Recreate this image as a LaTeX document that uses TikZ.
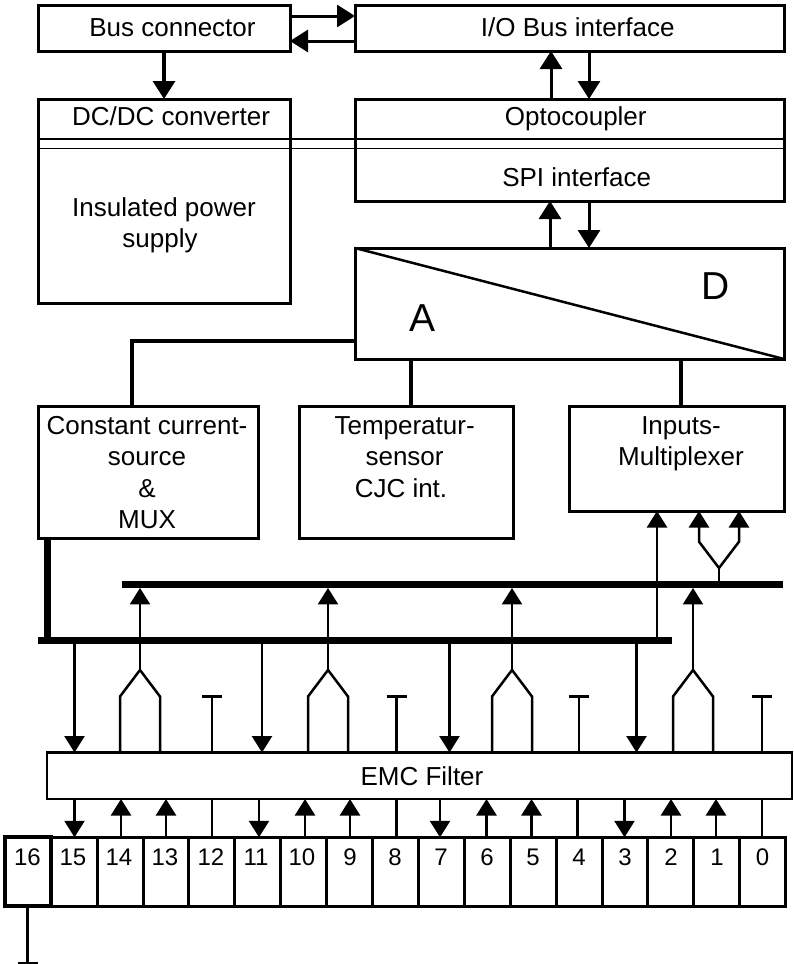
\documentclass[tikz,border=0pt]{standalone}
\usepackage{fontspec}
\setmainfont{Liberation Sans}
\usetikzlibrary{arrows.meta}
\tikzset{
  box/.style={draw=black,line width=3pt,fill=none,inner sep=0pt,outer sep=0pt,rectangle},
  txt/.style={inner sep=0pt,outer sep=0pt,anchor=base,align=center,font=\fontsize{26}{31.5}\selectfont},
  midtxt/.style={txt,font=\fontsize{26}{31.5}\selectfont},
  num/.style={inner sep=0pt,outer sep=0pt,anchor=base,font=\fontsize{24}{28}\selectfont},
  big/.style={inner sep=0pt,outer sep=0pt,anchor=base,font=\fontsize{39}{42}\selectfont},
  bar/.style={fill=black,draw=none,inner sep=0pt,outer sep=0pt,rectangle},
  bigtip/.style={-{Triangle[width=22pt,length=18pt]},line width=3pt},
  smalltip/.style={-{Triangle[width=20pt,length=16.5pt]},line width=2.5pt},
  wire/.style={line width=2.5pt,line join=miter},
  hvy/.style={line width=4pt},
}
\begin{document}
\begin{tikzpicture}[x=1pt,y=-1pt]
\useasboundingbox (0,0) rectangle (793,964);
% boxes
\node[box,minimum width=252pt,minimum height=46pt] (busc) at (164,28) {};
\node[box,minimum width=429pt,minimum height=46pt] (iob) at (569.5,28) {};
\node[box,minimum width=252pt,minimum height=204pt] (dcdc) at (164,201) {};
\node[box,minimum width=429pt,minimum height=102pt] (opto) at (569.5,150) {};
\node[box,minimum width=429pt,minimum height=111pt] (adc) at (569.5,303.5) {};
\node[box,minimum width=220pt,minimum height=132pt] (ccs) at (148,472) {};
\node[box,minimum width=214.5pt,minimum height=132pt] (temp) at (406.25,472) {};
\node[box,minimum width=214.5pt,minimum height=105pt] (mux) at (676.75,458.5) {};
\node[box,line width=2.5pt,minimum width=745pt,minimum height=46.5pt] (emc) at (419.5,775.75) {};
\node[bar,minimum width=661pt,minimum height=7.3pt] (busU) at (452.5,584.3) {};
\node[bar,minimum width=634pt,minimum height=7pt] (busL) at (355,640.8) {};
% texts
\node[txt] (tbus) at (172.5,36) {Bus connector};
\node[txt] (tiob) at (577.7,36) {I/O Bus interface};
\node[txt] (tdc) at (171,125.7) {DC/DC converter};
\node[txt] (tins) at (164,216.7) {Insulated power};
\node[txt] (tsup) at (160,247) {supply};
\node[txt] (topt) at (575.8,125.7) {Optocoupler};
\node[txt] (tspi) at (576.7,186.7) {SPI interface};
\node[big] (ta) at (423,331.7) {A};
\node[big] (td) at (715.7,299) {D};
\node[midtxt] (tc1) at (147,434) {Constant current-};
\node[midtxt] (tc2) at (147,465.5) {source};
\node[midtxt] (tc3) at (147,497) {\&};
\node[midtxt] (tc4) at (147,528.5) {MUX};
\node[midtxt] (tt1) at (404.6,434) {Temperatur-};
\node[midtxt] (tt2) at (404.6,465.5) {sensor};
\node[midtxt] (tt3) at (401,497) {CJC int.};
\node[midtxt] (tm1) at (681,434) {Inputs-};
\node[midtxt] (tm2) at (681,465.5) {Multiplexer};
\node[txt] (temc) at (422,785) {EMC Filter};
% ADC diagonal
\draw[line width=2.5pt] (adc.north west) -- (adc.south east);
% separation lines
\draw[line width=1.7pt] (dcdc.west |- 0,138.8) -- (opto.east |- 0,138.8);
\draw[line width=1.3pt] (dcdc.west |- 0,148.7) -- (opto.east |- 0,148.7);
% top connectors
\draw[bigtip] (busc.east |- 0,16) -- (iob.west |- 0,16);
\draw[bigtip] (iob.west |- 0,41) -- (busc.east |- 0,41);
\draw[bigtip,line width=3.5pt] (busc.south -| 164,0) -- (dcdc.north -| 164,0);
\draw[bigtip] (opto.north -| 551,0) -- (iob.south -| 551,0);
\draw[bigtip] (iob.south -| 589,0) -- (opto.north -| 589,0);
\draw[bigtip] (adc.north -| 550,0) -- (opto.south -| 550,0);
\draw[bigtip] (opto.south -| 589,0) -- (adc.north -| 589,0);
% heavy links
\coordinate (cnr) at (131.5,341);
\draw[hvy,line cap=butt] (adc.west |- cnr) -- (cnr) -- (ccs.north -| cnr);
\draw[hvy] (adc.south -| 411,0) -- (temp.north -| 411,0);
\draw[hvy] (adc.south -| 681,0) -- (mux.north -| 681,0);
\draw[line width=6.5pt] (ccs.south -| 47.5,0) -- (busL.north -| 47.5,0);
% into multiplexer
\draw[smalltip] (busL.north -| 657,0) -- (mux.south -| 657,0);
\coordinate (mj) at (719,568);
\draw[wire] (busU.north -| mj) -- (mj);
\draw[smalltip] (mj) -- (699,541.7) -- (mux.south -| 699,0);
\draw[smalltip] (mj) -- (739,541.7) -- (mux.south -| 739,0);
% bus to filter, merges, stubs
\foreach \x in {74.5,262,449.5,636.5}
  \draw[smalltip] (busL.south -| \x,0) -- (emc.north -| \x,0);
\foreach \x in {140,328,512,693}{
  \coordinate (apex) at (\x,670);
  \draw[smalltip] (apex) -- (busU.south -| apex);
  \draw[wire] (emc.north -| {\x-20},0) -- ({\x-20},696.5) -- (apex) -- ({\x+20},696.5) -- (emc.north -| {\x+20},0);
}
\foreach \x in {212,396.5,579,762}{
  \coordinate (stub) at (\x,696.5);
  \draw[wire] (emc.north -| stub) -- (stub);
  \draw[wire] ({\x-10},696.5) -- ({\x+10},696.5);
}
% terminals
\foreach \i/\lx [evaluate=\i as \cx using {51.2+45.9*(15-\i)+22.95}] in {15/73,14/119,13/165,12/211,11/256,10/302,9/350,8/395,7/441,6/487,5/533,4/579,3/625,2/671,1/717,0/762.5}{
  \node[box,minimum width=45.9pt,minimum height=69pt] (t\i) at (\cx,871.8) {};
  \node[num] (n\i) at (\lx,865.7) {\i};
}
\node[box,line width=4pt,minimum width=45.9pt,minimum height=69pt] (t16) at (28.25,871.8) {};
\node[num] (n16) at (27.5,865.7) {16};
% filter to terminals
\foreach \x/\t in {74.5/15,259/11,440/7,624.5/3}
  \draw[smalltip] (emc.south -| \x,0) -- (t\t.north -| \x,0);
\foreach \x/\t in {121/14,166/13,305/10,350/9,486.5/6,531.5/5,671/2,716/1}
  \draw[smalltip] (t\t.north -| \x,0) -- (emc.south -| \x,0);
\foreach \x/\t in {212/12,396.5/8,577.5/4,762/0}
  \draw[wire] (emc.south -| \x,0) -- (t\t.north -| \x,0);
% ground stub under 16
\coordinate (g16) at (27.5,963);
\draw[wire] (t16.south -| g16) -- (g16);
\draw[wire] (17.5,963) -- (37.5,963);
\end{tikzpicture}
\end{document}
